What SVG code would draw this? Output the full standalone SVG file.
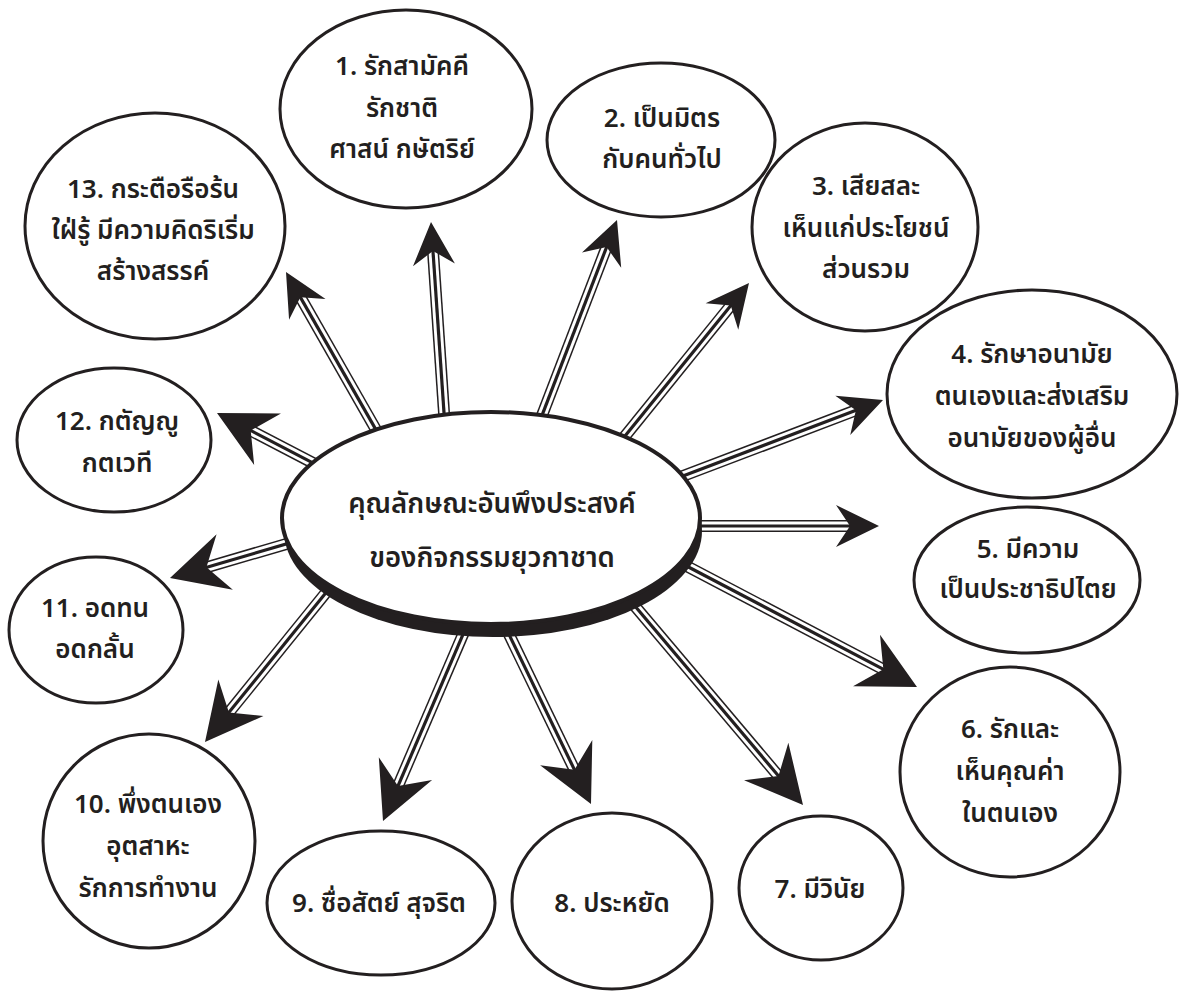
<svg xmlns="http://www.w3.org/2000/svg" width="1180" height="991" viewBox="0 0 1180 991">
<style>
.bg{fill:#fff}
.node ellipse{fill:#fff;stroke:#231f20;stroke-width:3}
text{font-family:"Noto Sans Thai","Noto Sans","DejaVu Sans",sans-serif;fill:#231f20;text-anchor:middle;font-weight:600}
.node text{font-size:26px}
#center text{font-size:27.5px}
.s1{stroke:#231f20;stroke-width:12;fill:none}
.s2{stroke:#fff;stroke-width:9;fill:none}
.s3{stroke:#231f20;stroke-width:3.2;fill:none}
.head{fill:#231f20}
</style>
<defs>
<path id="hs" d="M0,0 L-43,-21 L-29,0 L-43,21 Z"/>
<path id="hl" d="M0,0 L-57,-29 L-38,0 L-57,29 Z"/>
</defs>
<rect class="bg" x="0" y="0" width="1180" height="991"/>
<g id="connectors">
<g transform="translate(431,222) rotate(-93.9)"><line class="s1" x1="-231" y1="0" x2="-26" y2="0"/><line class="s2" x1="-231" y1="0" x2="-26" y2="0"/><line class="s3" x1="-231" y1="0" x2="-26" y2="0"/><use href="#hs" class="head"/></g>
<g transform="translate(617,220) rotate(-69)"><line class="s1" x1="-247" y1="0" x2="-26" y2="0"/><line class="s2" x1="-247" y1="0" x2="-26" y2="0"/><line class="s3" x1="-247" y1="0" x2="-26" y2="0"/><use href="#hs" class="head"/></g>
<g transform="translate(749,283) rotate(-51)"><line class="s1" x1="-216" y1="0" x2="-26" y2="0"/><line class="s2" x1="-216" y1="0" x2="-26" y2="0"/><line class="s3" x1="-216" y1="0" x2="-26" y2="0"/><use href="#hs" class="head"/></g>
<g transform="translate(883,400) rotate(-20.8)"><line class="s1" x1="-257" y1="0" x2="-26" y2="0"/><line class="s2" x1="-257" y1="0" x2="-26" y2="0"/><line class="s3" x1="-257" y1="0" x2="-26" y2="0"/><use href="#hs" class="head"/></g>
<g transform="translate(879,526)"><line class="s1" x1="-219" y1="0" x2="-26" y2="0"/><line class="s2" x1="-219" y1="0" x2="-26" y2="0"/><line class="s3" x1="-219" y1="0" x2="-26" y2="0"/><use href="#hs" class="head"/></g>
<g transform="translate(917,687) rotate(27.7)"><line class="s1" x1="-270" y1="0" x2="-34" y2="0"/><line class="s2" x1="-270" y1="0" x2="-34" y2="0"/><line class="s3" x1="-270" y1="0" x2="-34" y2="0"/><use href="#hl" class="head"/></g>
<g transform="translate(803,805) rotate(49.8)"><line class="s1" x1="-285" y1="0" x2="-34" y2="0"/><line class="s2" x1="-285" y1="0" x2="-34" y2="0"/><line class="s3" x1="-285" y1="0" x2="-34" y2="0"/><use href="#hl" class="head"/></g>
<g transform="translate(591,804) rotate(64.2)"><line class="s1" x1="-208" y1="0" x2="-34" y2="0"/><line class="s2" x1="-208" y1="0" x2="-34" y2="0"/><line class="s3" x1="-208" y1="0" x2="-34" y2="0"/><use href="#hl" class="head"/></g>
<g transform="translate(383,821) rotate(113.2)"><line class="s1" x1="-223" y1="0" x2="-34" y2="0"/><line class="s2" x1="-223" y1="0" x2="-34" y2="0"/><line class="s3" x1="-223" y1="0" x2="-34" y2="0"/><use href="#hl" class="head"/></g>
<g transform="translate(205,742) rotate(129)"><line class="s1" x1="-223" y1="0" x2="-34" y2="0"/><line class="s2" x1="-223" y1="0" x2="-34" y2="0"/><line class="s3" x1="-223" y1="0" x2="-34" y2="0"/><use href="#hl" class="head"/></g>
<g transform="translate(170,578) rotate(163.7)"><line class="s1" x1="-158" y1="0" x2="-34" y2="0"/><line class="s2" x1="-158" y1="0" x2="-34" y2="0"/><line class="s3" x1="-158" y1="0" x2="-34" y2="0"/><use href="#hl" class="head"/></g>
<g transform="translate(217,413) rotate(-152.5)"><line class="s1" x1="-148" y1="0" x2="-34" y2="0"/><line class="s2" x1="-148" y1="0" x2="-34" y2="0"/><line class="s3" x1="-148" y1="0" x2="-34" y2="0"/><use href="#hl" class="head"/></g>
<g transform="translate(286,272) rotate(-119.7)"><line class="s1" x1="-220" y1="0" x2="-26" y2="0"/><line class="s2" x1="-220" y1="0" x2="-26" y2="0"/><line class="s3" x1="-220" y1="0" x2="-26" y2="0"/><use href="#hs" class="head"/></g>
</g>
<g id="center">
<ellipse cx="493" cy="531" rx="209" ry="106" fill="#231f20"/>
<ellipse cx="491" cy="518" rx="209" ry="106" fill="#fff" stroke="#231f20" stroke-width="4"/>
<text x="492" y="513">คุณลักษณะอันพึงประสงค์</text>
<text x="492" y="567">ของกิจกรรมยุวกาชาด</text>
</g>
<g id="n1" class="node"><ellipse cx="406" cy="109" rx="126" ry="99"/><text x="402" y="75">1. รักสามัคคี</text><text x="402" y="117">รักชาติ</text><text x="402" y="158">ศาสน์ กษัตริย์</text></g>
<g id="n2" class="node"><ellipse cx="661" cy="140" rx="114" ry="77"/><text x="662" y="127">2. เป็นมิตร</text><text x="662" y="168">กับคนทั่วไป</text></g>
<g id="n3" class="node"><ellipse cx="865" cy="227" rx="113" ry="104"/><text x="866" y="195">3. เสียสละ</text><text x="866" y="237">เห็นแก่ประโยชน์</text><text x="866" y="278">ส่วนรวม</text></g>
<g id="n4" class="node"><ellipse cx="1032" cy="394" rx="145" ry="104"/><text x="1032" y="363">4. รักษาอนามัย</text><text x="1032" y="405">ตนเองและส่งเสริม</text><text x="1032" y="447">อนามัยของผู้อื่น</text></g>
<g id="n5" class="node"><ellipse cx="1027" cy="580" rx="113" ry="73"/><text x="1028" y="558">5. มีความ</text><text x="1028" y="598">เป็นประชาธิปไตย</text></g>
<g id="n6" class="node"><ellipse cx="1010" cy="772" rx="110" ry="105"/><text x="1010" y="738">6. รักและ</text><text x="1010" y="780">เห็นคุณค่า</text><text x="1010" y="822">ในตนเอง</text></g>
<g id="n7" class="node"><ellipse cx="821" cy="888" rx="82" ry="72"/><text x="820" y="898">7. มีวินัย</text></g>
<g id="n8" class="node"><ellipse cx="612" cy="901" rx="100" ry="88"/><text x="612" y="912">8. ประหยัด</text></g>
<g id="n9" class="node"><ellipse cx="381" cy="903" rx="114" ry="72"/><text x="379" y="912">9. ซื่อสัตย์ สุจริต</text></g>
<g id="n10" class="node"><ellipse cx="149" cy="841" rx="106" ry="107"/><text x="148" y="813">10. พึ่งตนเอง</text><text x="148" y="855">อุตสาหะ</text><text x="148" y="897">รักการทำงาน</text></g>
<g id="n11" class="node"><ellipse cx="96" cy="630" rx="87" ry="73"/><text x="95" y="617">11. อดทน</text><text x="95" y="658">อดกลั้น</text></g>
<g id="n12" class="node"><ellipse cx="114" cy="440" rx="97" ry="72"/><text x="117" y="430">12. กตัญญู</text><text x="117" y="472">กตเวที</text></g>
<g id="n13" class="node"><ellipse cx="155" cy="226" rx="130" ry="113"/><text x="153" y="198">13. กระตือรือร้น</text><text x="153" y="239">ใฝ่รู้ มีความคิดริเริ่ม</text><text x="153" y="280">สร้างสรรค์</text></g>
</svg>
